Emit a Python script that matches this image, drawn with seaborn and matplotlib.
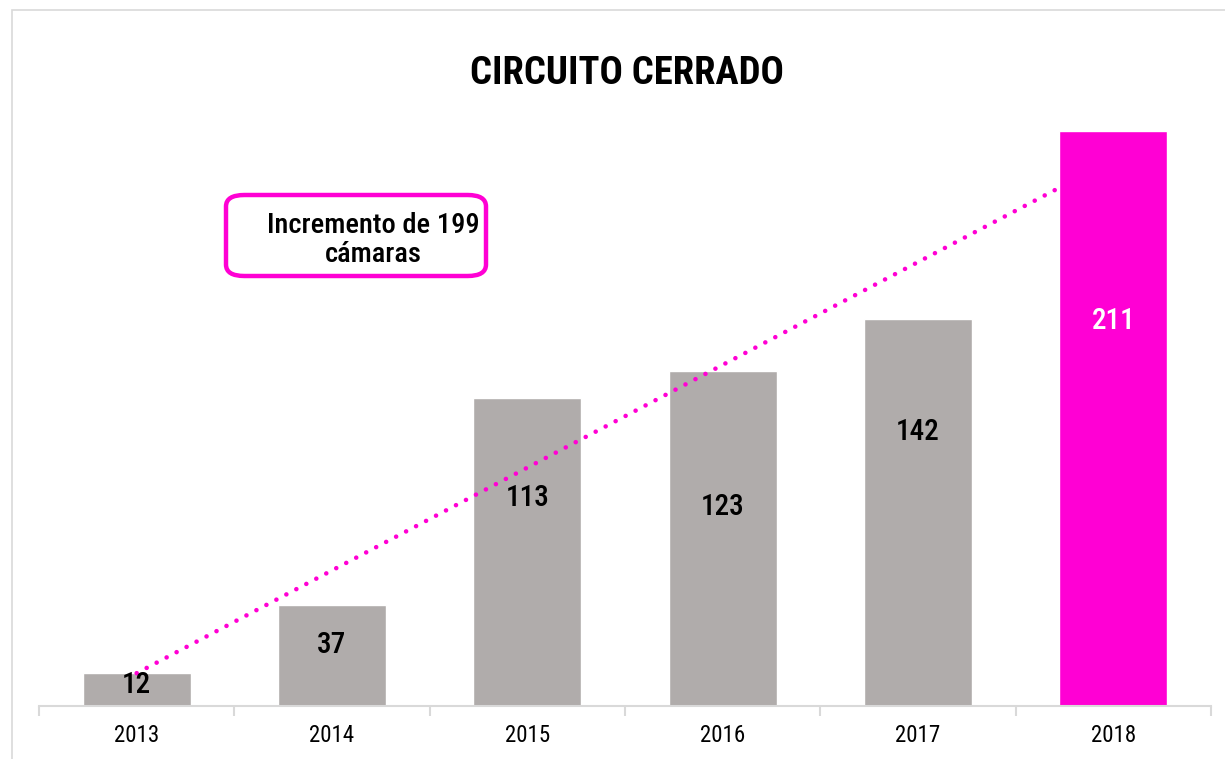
import numpy as np
import pandas as pd
import matplotlib
matplotlib.use("Agg")
import matplotlib.pyplot as plt
from matplotlib import font_manager
from matplotlib.patches import FancyBboxPatch, Rectangle
import seaborn as sns

# Data
years = ["2013", "2014", "2015", "2016", "2017", "2018"]
cameras = [12, 37, 113, 123, 142, 211]
# vertical position (data units) of each value label inside its bar
label_y = [7.7, 22.4, 76.3, 73.0, 100.6, 141.3]
title = "CIRCUITO CERRADO"
note = "Incremento de 199\ncámaras"

GRAY = "#B0ACAB"
MAGENTA = "#FF00D4"
AXIS_GRAY = "#D9D9D9"

# prefer a condensed sans face; otherwise an Arial-metric face at a reduced size
installed = {f.name for f in font_manager.fontManager.ttflist}
narrow = [n for n in ["Liberation Sans Narrow", "Roboto Condensed",
                      "Noto Sans Condensed", "Open Sans Condensed",
                      "DejaVu Sans Condensed", "Arial Narrow"] if n in installed]
if narrow:
    family, k = narrow[0], 1.0
else:
    family, k = "Liberation Sans", 0.86

sns.set_theme(style="white")
plt.rcParams["font.family"] = [family, "DejaVu Sans"]

W, H = 1225, 759
fig = plt.figure(figsize=(W / 100, H / 100), dpi=100)

# outer chart frame
fig.patches.append(Rectangle((12 / W, -0.1), 1.2, (H - 10) / H + 0.1,
                             transform=fig.transFigure, fill=False,
                             edgecolor=AXIS_GRAY, linewidth=1.2))

ax = fig.add_axes([39 / W, 1 - 706 / H, (1211 - 39) / W, (706 - 106.5) / H])
df = pd.DataFrame({"year": years, "cameras": cameras})
colors = [GRAY] * (len(years) - 1) + [MAGENTA]
sns.barplot(data=df, x="year", y="cameras", hue="year", palette=colors,
            legend=False, width=0.553, saturation=1, ax=ax, zorder=2)

# linear trend line
xs = np.arange(len(years))
slope, intercept = np.polyfit(xs, cameras, 1)
ax.plot(xs, slope * xs + intercept, color=MAGENTA, linewidth=3.3,
        linestyle=(0, (0.01, 2.45)), dash_capstyle="round", zorder=3)

# value labels
for i, (v, ly) in enumerate(zip(cameras, label_y)):
    ax.text(i, ly, str(v), ha="center", va="center", fontsize=21 * k,
            fontweight="medium",
            color="white" if i == len(years) - 1 else "black", zorder=4)

ax.set_xlim(-0.5, len(years) - 0.5)
ax.set_ylim(0, 220)
ax.set_xlabel("")
ax.set_ylabel("")
ax.set_yticks([])
for s in ["top", "right", "left"]:
    ax.spines[s].set_visible(False)
ax.spines["bottom"].set_color(AXIS_GRAY)
ax.spines["bottom"].set_linewidth(1.5)
ax.set_xticks(xs)
ax.set_xticklabels(years, fontsize=16.5 * k, color="black")
ax.tick_params(axis="x", which="major", length=0, pad=13)
ax.set_xticks(np.arange(-0.5, len(years)), minor=True)
ax.tick_params(axis="x", which="minor", length=7, width=1.5,
               color=AXIS_GRAY, direction="out", bottom=True)

# title
fig.text(627 / W, 1 - 73 / H, title, ha="center", va="center",
         fontsize=27.8 * k, fontweight="bold", color="black")

# annotation box
fig.patches.append(FancyBboxPatch((226 / W, 1 - 276 / H), (486 - 226) / W, (276 - 195) / H,
                                  boxstyle="round,pad=0,rounding_size=0.015",
                                  transform=fig.transFigure, facecolor="white",
                                  edgecolor=MAGENTA, linewidth=3.2, zorder=5))
fig.text(373 / W, 1 - 240 / H, note, ha="center", va="center", fontsize=20.5 * k,
         fontweight="medium", color="black", linespacing=1.1, zorder=6)

fig.savefig("out.png", dpi=100)
